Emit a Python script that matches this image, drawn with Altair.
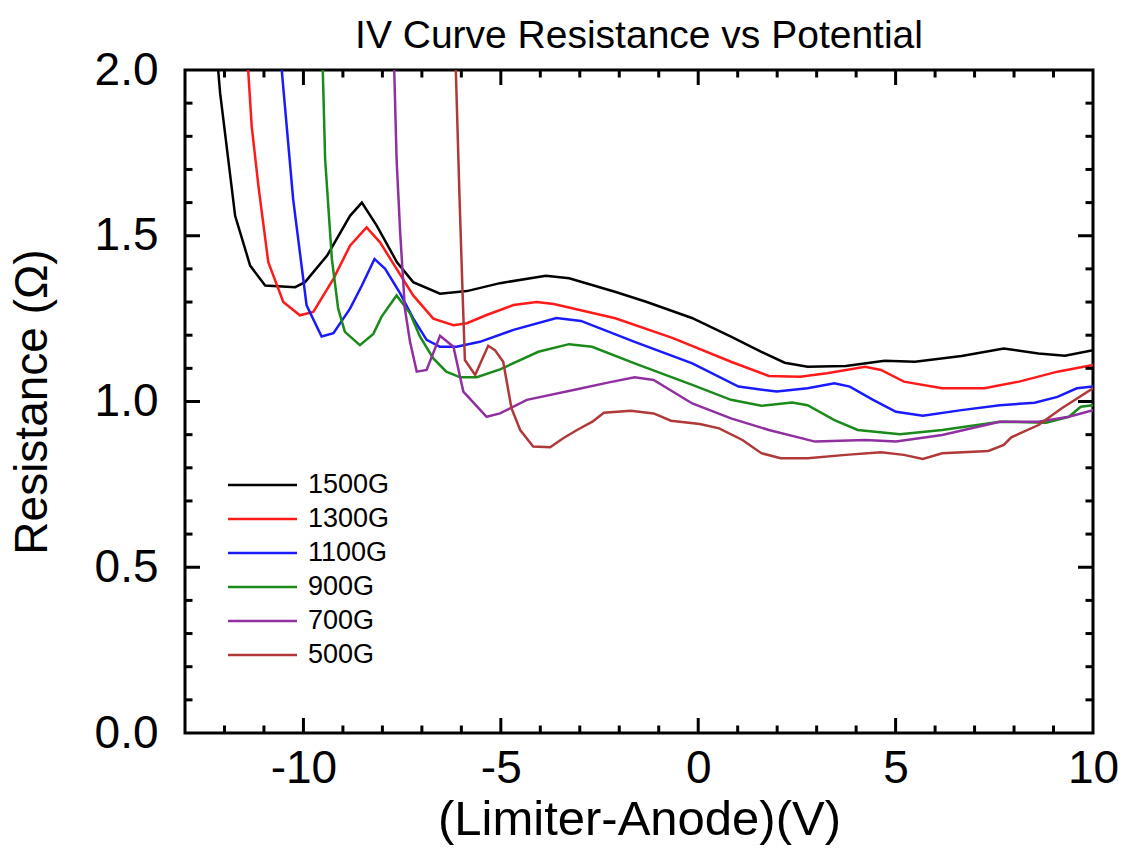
import altair as alt
import pandas as pd

series_names = ["1500G", "1300G", "1100G", "900G", "700G", "500G"]
series_colors = ["#000000", "#ff1a1a", "#1a1aff", "#1a8a1a", "#9030a0", "#b03838"]

x_1500 = [-12.16, -12.11, -11.73, -11.35, -10.97, -10.21, -9.96, -9.40, -8.82, -8.52, -8.14, -7.63, -7.22, -6.54, -5.86, -5.02, -3.86, -3.27, -2.11, -1.32, -0.16, 0.83, 1.60, 2.19, 2.77, 3.74, 4.72, 5.49, 6.67, 7.74, 8.62, 9.29, 10.0]
y_1500 = [2.0, 1.93, 1.56, 1.41, 1.35, 1.345, 1.36, 1.44, 1.56, 1.60, 1.53, 1.42, 1.36, 1.325, 1.333, 1.357, 1.379, 1.372, 1.331, 1.301, 1.252, 1.196, 1.150, 1.117, 1.105, 1.107, 1.123, 1.12, 1.137, 1.160, 1.145, 1.138, 1.155]

x_1300 = [-11.40, -11.31, -11.14, -10.89, -10.51, -10.09, -9.75, -9.24, -8.82, -8.40, -8.06, -7.64, -7.22, -6.71, -6.20, -5.86, -5.36, -4.68, -4.09, -3.66, -2.10, -0.64, 0.83, 1.79, 2.58, 3.26, 4.23, 4.63, 5.21, 6.18, 7.25, 8.13, 9.10, 10.0]
y_1300 = [2.0, 1.83, 1.65, 1.42, 1.30, 1.26, 1.27, 1.37, 1.47, 1.525, 1.48, 1.40, 1.32, 1.25, 1.23, 1.236, 1.261, 1.291, 1.30, 1.294, 1.251, 1.191, 1.12, 1.077, 1.075, 1.085, 1.105, 1.095, 1.06, 1.04, 1.04, 1.06, 1.09, 1.11]

x_1100 = [-10.55, -10.26, -9.92, -9.54, -9.24, -8.82, -8.52, -8.20, -7.93, -7.55, -7.22, -6.88, -6.54, -6.12, -5.53, -4.68, -3.59, -2.97, -1.61, -0.15, 1.02, 1.99, 2.77, 3.45, 3.84, 4.43, 5.01, 5.69, 6.67, 7.64, 8.52, 9.10, 9.59, 10.0]
y_1100 = [2.0, 1.61, 1.29, 1.196, 1.206, 1.28, 1.35, 1.43, 1.40, 1.326, 1.251, 1.186, 1.165, 1.165, 1.18, 1.216, 1.252, 1.243, 1.18, 1.115, 1.045, 1.03, 1.04, 1.055, 1.045, 1.005, 0.969, 0.957, 0.974, 0.989, 0.996, 1.014, 1.04, 1.045]

x_900 = [-9.51, -9.45, -9.28, -9.12, -8.95, -8.57, -8.23, -8.02, -7.64, -7.30, -7.05, -6.71, -6.38, -6.03, -5.61, -5.02, -4.05, -3.27, -2.69, -1.61, -0.15, 0.83, 1.60, 2.38, 2.77, 3.45, 4.04, 5.11, 6.18, 7.64, 8.81, 9.39, 9.69, 10.0]
y_900 = [2.0, 1.73, 1.43, 1.28, 1.21, 1.17, 1.204, 1.256, 1.32, 1.266, 1.196, 1.13, 1.09, 1.073, 1.073, 1.097, 1.15, 1.173, 1.165, 1.115, 1.05, 1.005, 0.987, 0.997, 0.989, 0.944, 0.914, 0.901, 0.914, 0.939, 0.936, 0.954, 0.984, 0.989]

x_700 = [-7.70, -7.64, -7.55, -7.43, -7.30, -7.13, -6.88, -6.54, -6.20, -5.95, -5.36, -5.02, -4.34, -3.07, -2.29, -1.61, -1.13, -0.15, 0.83, 1.79, 2.96, 4.23, 5.01, 6.18, 7.64, 8.62, 9.39, 10.0]
y_700 = [2.0, 1.73, 1.51, 1.28, 1.18, 1.09, 1.095, 1.198, 1.165, 1.03, 0.954, 0.964, 1.005, 1.037, 1.057, 1.073, 1.065, 0.994, 0.949, 0.914, 0.879, 0.884, 0.879, 0.899, 0.939, 0.939, 0.954, 0.974]

x_500 = [-6.14, -6.05, -5.97, -5.91, -5.65, -5.32, -5.15, -4.94, -4.73, -4.51, -4.18, -3.75, -3.42, -3.07, -2.68, -2.39, -1.71, -1.13, -0.69, 0.04, 0.53, 1.12, 1.60, 2.09, 2.77, 3.74, 4.63, 5.21, 5.69, 6.18, 7.35, 7.74, 7.93, 8.62, 9.20, 10.0]
y_500 = [2.0, 1.63, 1.33, 1.125, 1.08, 1.168, 1.155, 1.12, 0.98, 0.914, 0.864, 0.862, 0.889, 0.914, 0.939, 0.966, 0.972, 0.964, 0.942, 0.932, 0.919, 0.884, 0.844, 0.829, 0.829, 0.839, 0.847, 0.839, 0.827, 0.844, 0.851, 0.869, 0.892, 0.929, 0.979, 1.04]

x_major_ticks = [-10, -5, 0, 5]
x_minor_ticks = [-12, -11, -9, -8, -7, -6, -4, -3, -2, -1, 1, 2, 3, 4, 6, 7, 8, 9]
y_major_ticks = [0.5, 1.0, 1.5]
y_minor_ticks = [0.1, 0.2, 0.3, 0.4, 0.6, 0.7, 0.8, 0.9, 1.1, 1.2, 1.3, 1.4, 1.6, 1.7, 1.8, 1.9]

X_MIN, X_MAX, Y_MIN, Y_MAX = -13, 10, 0, 2
W, H = 908, 663
FONT = "Liberation Sans"

rows = []
for name, xs, ys in zip(series_names,
                        [x_1500, x_1300, x_1100, x_900, x_700, x_500],
                        [y_1500, y_1300, y_1100, y_900, y_700, y_500]):
    for i, (xv, yv) in enumerate(zip(xs, ys)):
        rows.append({"series": name, "x": xv, "y": yv, "i": i})
df = pd.DataFrame(rows)

xscale = alt.Scale(domain=[X_MIN, X_MAX], nice=False, zero=False)
yscale = alt.Scale(domain=[Y_MIN, Y_MAX], nice=False, zero=False)

x_axis = alt.Axis(
    values=[-10, -5, 0, 5, 10], ticks=False, domain=False, grid=False,
    labelFontSize=46, labelFont=FONT, labelColor="black", labelPadding=13,
    labelFlush=False, labelExpr="'' + datum.value",
    title="(Limiter-Anode)(V)", titleFontSize=49, titleFont=FONT,
    titleFontWeight="normal", titleColor="black", titlePadding=4)
y_axis = alt.Axis(
    values=[0, 0.5, 1.0, 1.5, 2.0], ticks=False, domain=False, grid=False,
    labelFontSize=46, labelFont=FONT, labelColor="black", labelPadding=27,
    format=".1f",
    title="Resistance (Ω)", titleFontSize=46, titleFont=FONT,
    titleFontWeight="normal", titleColor="black", titlePadding=38)

# legend: custom horizontal stroke symbol, 69 px long
legend = alt.Legend(
    orient="none", legendX=43, legendY=401.5, title=None,
    symbolType="M-3.086,0H3.086", symbolSize=500, symbolStrokeWidth=2.5,
    symbolOffset=21, labelFontSize=27, labelFont=FONT, labelColor="black",
    labelOffset=32, rowPadding=6, padding=0)

lines = alt.Chart(df).mark_line(strokeWidth=2.5, clip=True).encode(
    x=alt.X("x:Q", scale=xscale, axis=x_axis),
    y=alt.Y("y:Q", scale=yscale, axis=y_axis),
    color=alt.Color("series:N", scale=alt.Scale(domain=series_names, range=series_colors),
                    legend=legend),
    order="i:Q",
)

# inward tick marks on all four sides
maj_x = 15 / W * (X_MAX - X_MIN)
min_x = 7.5 / W * (X_MAX - X_MIN)
maj_y = 15 / H * (Y_MAX - Y_MIN)
min_y = 7.5 / H * (Y_MAX - Y_MIN)

tick_rows = []
for v in x_major_ticks:
    tick_rows.append({"x": v, "x2": v, "y": Y_MIN, "y2": Y_MIN + maj_y})
    tick_rows.append({"x": v, "x2": v, "y": Y_MAX, "y2": Y_MAX - maj_y})
for v in x_minor_ticks:
    tick_rows.append({"x": v, "x2": v, "y": Y_MIN, "y2": Y_MIN + min_y})
    tick_rows.append({"x": v, "x2": v, "y": Y_MAX, "y2": Y_MAX - min_y})
for v in y_major_ticks:
    tick_rows.append({"x": X_MIN, "x2": X_MIN + maj_x, "y": v, "y2": v})
    tick_rows.append({"x": X_MAX, "x2": X_MAX - maj_x, "y": v, "y2": v})
for v in y_minor_ticks:
    tick_rows.append({"x": X_MIN, "x2": X_MIN + min_x, "y": v, "y2": v})
    tick_rows.append({"x": X_MAX, "x2": X_MAX - min_x, "y": v, "y2": v})
ticks_df = pd.DataFrame(tick_rows)

ticks = alt.Chart(ticks_df).mark_rule(color="black", strokeWidth=3).encode(
    x=alt.X("x:Q", scale=xscale, axis=x_axis),
    x2="x2:Q",
    y=alt.Y("y:Q", scale=yscale, axis=y_axis),
    y2="y2:Q",
)

chart = alt.layer(lines, ticks).properties(
    width=W, height=H,
    title=alt.TitleParams("IV Curve Resistance vs Potential", fontSize=39, font=FONT,
                          fontWeight="normal", color="black", anchor="middle",
                          offset=14, dy=23),
    autosize=alt.AutoSizeParams(type="none"),
    padding={"left": 185, "top": 70, "right": 34, "bottom": 119},
    background="white",
).configure_view(stroke="black", strokeWidth=3)

chart.save("out.html", embed_options={"renderer": "svg", "actions": False})
